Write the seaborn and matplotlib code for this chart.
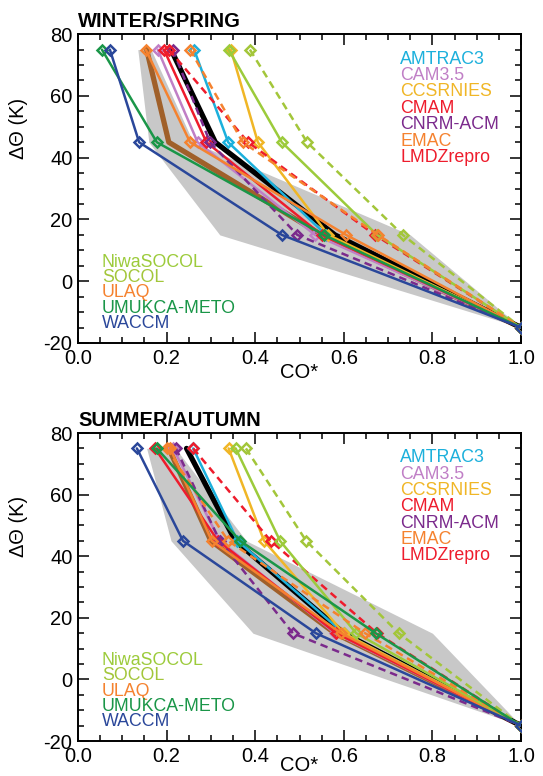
import matplotlib
matplotlib.use("Agg")
import matplotlib.pyplot as plt
import seaborn as sns
from matplotlib.ticker import MultipleLocator, FormatStrFormatter

sns.set_style("ticks")
plt.rcParams["font.family"] = ["Liberation Sans", "DejaVu Sans"]
plt.rcParams["text.color"] = "black"
plt.rcParams["axes.edgecolor"] = "black"
plt.rcParams["xtick.color"] = "black"
plt.rcParams["ytick.color"] = "black"

# potential temperature levels (K above tropopause)
levels = [75, 45, 15, -15]

# model names, colours and line styles
models = ["AMTRAC3", "CAM3.5", "CCSRNIES", "CMAM", "CNRM-ACM", "EMAC", "LMDZrepro",
          "NiwaSOCOL", "SOCOL", "ULAQ", "UMUKCA-METO", "WACCM"]
colors = ["#1cb0dc", "#c07fc6", "#f0b626", "#ee1c2c", "#7b2a8c", "#f5822f", "#ee1c2c",
          "#9ccb3b", "#a3c63a", "#f5822f", "#1a9648", "#2a479a"]
dashed = [False, False, False, False, True, False, True,
          False, True, True, False, False]

# WINTER/SPRING CO* at each level
ws_amtrac3 = [0.262, 0.339, 0.56, 1.0]
ws_cam35 = [0.18, 0.27, 0.535, 1.0]
ws_ccsrnies = [0.345, 0.406, 0.565, 1.0]
ws_cmam = [0.194, 0.29, 0.55, 1.0]
ws_cnrm = [0.214, 0.298, 0.495, 1.0]
ws_emac = [0.153, 0.253, 0.605, 1.0]
ws_lmdz = [0.205, 0.384, 0.67, 1.0]
ws_niwasocol = [0.34, 0.46, 0.675, 1.0]
ws_socol = [0.388, 0.517, 0.733, 1.0]
ws_ulaq = [0.253, 0.372, 0.677, 1.0]
ws_umukca = [0.054, 0.178, 0.555, 1.0]
ws_waccm = [0.072, 0.138, 0.46, 1.0]
ws_obs = [0.21, 0.31, 0.58, 1.0]
ws_mmm = [0.155, 0.205, 0.55, 1.0]
ws_range_lo = [0.135, 0.16, 0.32, 1.0]
ws_range_hi = [0.165, 0.26, 0.75, 1.0]

# SUMMER/AUTUMN CO* at each level
sa_amtrac3 = [0.26, 0.36, 0.60, 1.0]
sa_cam35 = [0.215, 0.32, 0.58, 1.0]
sa_ccsrnies = [0.34, 0.42, 0.60, 1.0]
sa_cmam = [0.174, 0.316, 0.583, 1.0]
sa_cnrm = [0.221, 0.32, 0.485, 1.0]
sa_emac = [0.208, 0.302, 0.594, 1.0]
sa_lmdz = [0.26, 0.435, 0.675, 1.0]
sa_niwasocol = [0.356, 0.456, 0.628, 1.0]
sa_socol = [0.379, 0.515, 0.724, 1.0]
sa_ulaq = [0.20, 0.339, 0.648, 1.0]
sa_umukca = [0.178, 0.366, 0.672, 1.0]
sa_waccm = [0.133, 0.237, 0.537, 1.0]
sa_obs = [0.245, 0.355, 0.60, 1.0]
sa_mmm = [0.205, 0.30, 0.58, 1.0]
sa_range_lo = [0.155, 0.21, 0.395, 1.0]
sa_range_hi = [0.22, 0.38, 0.80, 1.0]

ws_models = [ws_amtrac3, ws_cam35, ws_ccsrnies, ws_cmam, ws_cnrm, ws_emac, ws_lmdz,
             ws_niwasocol, ws_socol, ws_ulaq, ws_umukca, ws_waccm]
sa_models = [sa_amtrac3, sa_cam35, sa_ccsrnies, sa_cmam, sa_cnrm, sa_emac, sa_lmdz,
             sa_niwasocol, sa_socol, sa_ulaq, sa_umukca, sa_waccm]

fig = plt.figure(figsize=(5.43, 7.76), dpi=100)
ax1 = fig.add_axes([0.1436, 0.558, 0.816, 0.398])
ax2 = fig.add_axes([0.1436, 0.045, 0.816, 0.397])


def draw_panel(ax, title, model_vals, obs, mmm, lo, hi, co_y):
    ax.fill_betweenx(levels, lo, hi, color="#c8c8c8", linewidth=0, zorder=1)
    sns.lineplot(x=mmm, y=levels, ax=ax, color="#a0602a", linewidth=3.8,
                 sort=False, estimator=None, zorder=2)
    sns.lineplot(x=obs, y=levels, ax=ax, color="black", linewidth=3.8,
                 sort=False, estimator=None, zorder=2)
    for vals, c, d in zip(model_vals, colors, dashed):
        ls = (0, (3, 2)) if d else "-"
        sns.lineplot(x=vals, y=levels, ax=ax, color=c, linewidth=1.8, linestyle=ls,
                     marker="D", markersize=5.5, markerfacecolor="none",
                     markeredgecolor=c, markeredgewidth=1.8,
                     sort=False, estimator=None, zorder=3)

    ax.set_xlim(0, 1.0)
    ax.set_ylim(-20, 80)
    ax.xaxis.set_major_locator(MultipleLocator(0.2))
    ax.xaxis.set_minor_locator(MultipleLocator(0.05))
    ax.yaxis.set_major_locator(MultipleLocator(20))
    ax.yaxis.set_minor_locator(MultipleLocator(5))
    ax.xaxis.set_major_formatter(FormatStrFormatter("%.1f"))
    ax.yaxis.set_major_formatter(FormatStrFormatter("%d"))
    ax.tick_params(which="both", direction="in", top=True, right=True,
                   width=1.1, labelsize=14.5, pad=4, colors="black")
    ax.tick_params(which="major", length=8)
    ax.tick_params(which="minor", length=4)
    for s in ax.spines.values():
        s.set_linewidth(1.4)
        s.set_color("black")
    ax.set_xlabel("")
    ax.set_ylabel("")

    ax.text(0.0, 1.042, title, transform=ax.transAxes, fontsize=14.5,
            fontweight="bold", ha="left", va="center", color="black")
    ax.text(0.5, co_y, "CO*", transform=ax.transAxes, fontsize=14.5,
            ha="center", va="center", color="black")
    ax.text(-0.135, 0.696, "ΔΘ (K)", transform=ax.transAxes, fontsize=14.5,
            rotation=90, ha="center", va="center", color="black")

    # model name labels
    for i in range(7):
        ax.text(0.727, 0.919 - i * 0.053, models[i], color=colors[i],
                transform=ax.transAxes, fontsize=12.8, ha="left", va="center")
    for j, i in enumerate(range(7, 12)):
        ax.text(0.054, 0.262 - j * 0.05, models[i], color=colors[i],
                transform=ax.transAxes, fontsize=12.8, ha="left", va="center")


draw_panel(ax1, "WINTER/SPRING", ws_models, ws_obs, ws_mmm,
           ws_range_lo, ws_range_hi, -0.097)
draw_panel(ax2, "SUMMER/AUTUMN", sa_models, sa_obs, sa_mmm,
           sa_range_lo, sa_range_hi, -0.078)

fig.savefig("out.png", dpi=100)
